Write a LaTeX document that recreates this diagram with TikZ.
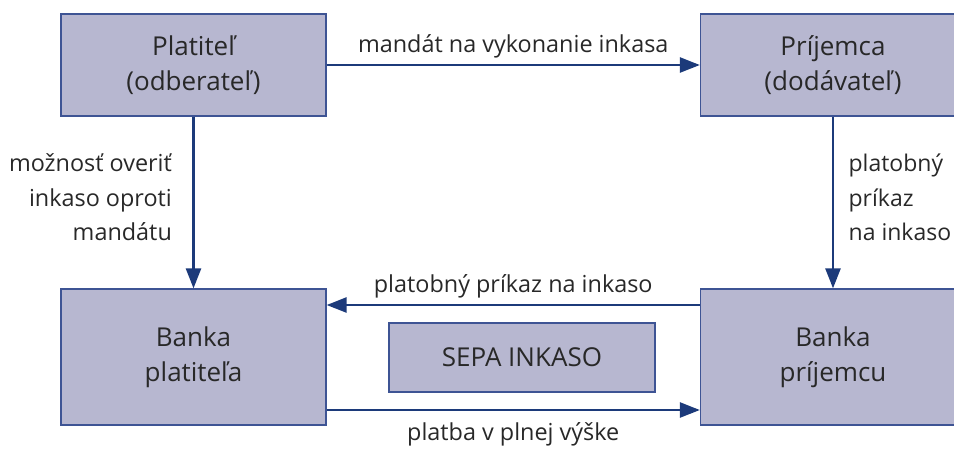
\documentclass[tikz,border=0pt]{standalone}
\usepackage{fontspec}
\setmainfont{Open Sans}
\usetikzlibrary{arrows.meta, positioning}
\definecolor{boxfill}{RGB}{183,183,208}
\definecolor{boxline}{RGB}{62,84,148}
\definecolor{arrowblue}{RGB}{28,58,122}
\definecolor{textgray}{RGB}{40,40,40}

\begin{document}
\begin{tikzpicture}[x=1pt, y=-1pt,
  party/.style={draw=boxline, line width=1.3pt, fill=boxfill,
    minimum width=265pt, minimum height=102pt, align=center,
    font=\fontsize{26}{35}\selectfont, text=textgray},
  flow/.style={draw=arrowblue, line width=2.6pt,
    -{Triangle[length=20pt, width=15pt]}},
  lbl/.style={font=\fontsize{23.4}{34.5}\selectfont, text=textgray}]

\useasboundingbox (0,0) rectangle (954,448);

% parties and banks
\node[party] (platitel) at (193.5,65) {Platiteľ\\(odberateľ)};
\node[party] (prijemca) at (833,65) {Príjemca\\(dodávateľ)};
\node[party, minimum height=136pt] (bankaP) at (193.5,357) {Banka\\platiteľa};
\node[party, minimum height=136pt] (bankaR) at (833,357) {Banka\\príjemcu};
\node[party, minimum width=266pt, minimum height=69pt] (sepa) at (522,357.5) {SEPA INKASO};

% flows
\draw[flow] (platitel) -- node[lbl, above=2pt] {mandát na vykonanie inkasa} (prijemca);
\draw[flow] (platitel) -- node[lbl, left=17pt, yshift=5pt, align=right]
  {možnosť overiť\\inkaso oproti\\mandátu} (bankaP);
\draw[flow] (prijemca) -- node[lbl, right=11pt, yshift=5pt, align=left,
  font=\fontsize{23}{34.5}\selectfont] {platobný\\príkaz\\na inkaso} (bankaR);
\draw[flow] ([yshift=52pt]bankaR.west) -- node[lbl, above=2pt]
  {platobný príkaz na inkaso} ([yshift=52pt]bankaP.east);
\draw[flow] ([yshift=-53pt]bankaP.east) -- node[lbl, below=8pt]
  {platba v plnej výške} ([yshift=-53pt]bankaR.west);

\end{tikzpicture}
\end{document}
